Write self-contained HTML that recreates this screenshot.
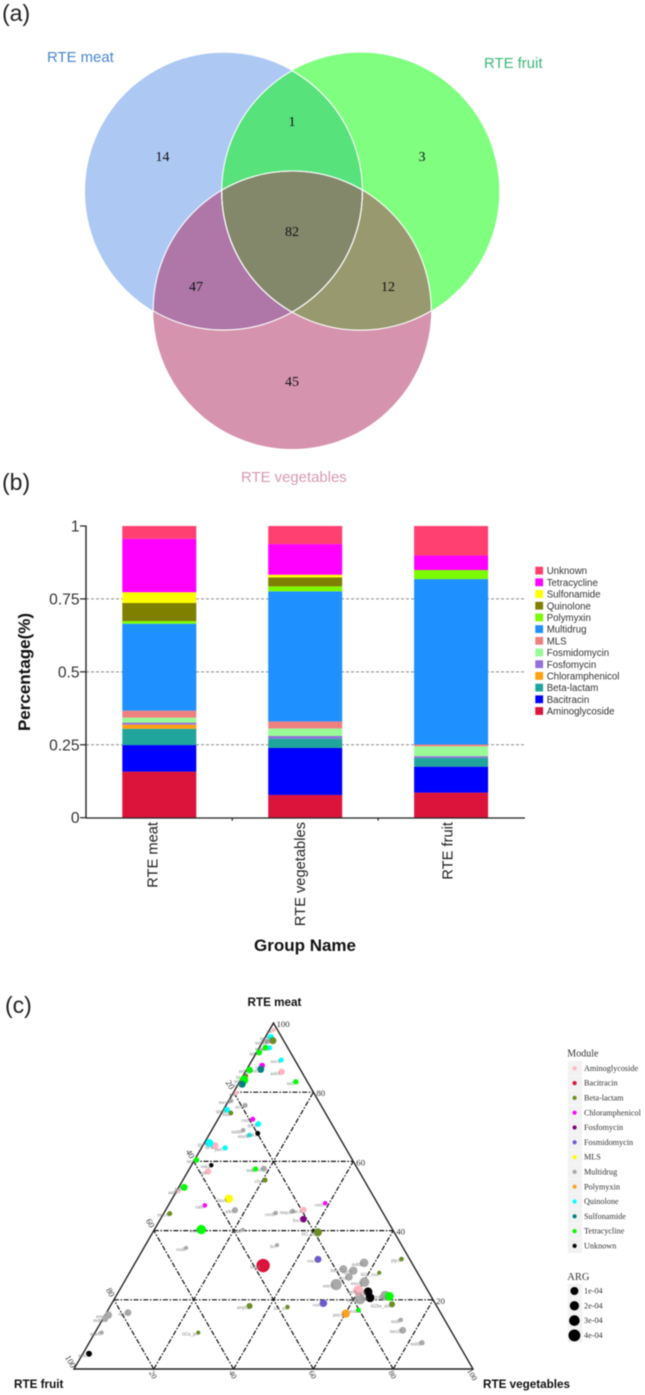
<!DOCTYPE html>
<html lang="en">
<head>
<meta charset="utf-8">
<title>RTE food resistome figure</title>
<style>
html,body{margin:0;padding:0;background:#fff;}
#figure{display:block;width:645px;height:1395px;filter:blur(0.4px);}
text{font-family:"Liberation Sans",sans-serif;}
.serif{font-family:"Liberation Serif",serif;}
</style>
</head>
<body>
<svg id="figure" xmlns="http://www.w3.org/2000/svg" width="645" height="1395" viewBox="0 0 645 1395">
<defs>
<clipPath id="clip-meat"><circle cx="223.7" cy="191.4" r="138.7"/></clipPath>
<clipPath id="clip-fruit"><circle cx="360.5" cy="191.4" r="138.8"/></clipPath>
<clipPath id="clip-veg"><circle cx="292.2" cy="310" r="139"/></clipPath>
</defs>
<rect width="645" height="1395" fill="#fff"/>
<text x="2" y="21" font-size="23" fill="#222">(a)</text>
<text x="2" y="490" font-size="23" fill="#222">(b)</text>
<text x="5" y="1013" font-size="23" fill="#222">(c)</text>

<g id="venn">
<circle cx="223.7" cy="191.4" r="138.7" fill="#aec8f4"/>
<circle cx="360.5" cy="191.4" r="138.8" fill="#80fe80"/>
<circle cx="292.2" cy="310" r="139" fill="#d593ae"/>
<g clip-path="url(#clip-meat)"><circle cx="360.5" cy="191.4" r="138.8" fill="#57e27b"/></g>
<g clip-path="url(#clip-meat)"><circle cx="292.2" cy="310" r="139" fill="#ae77a8"/></g>
<g clip-path="url(#clip-fruit)"><circle cx="292.2" cy="310" r="139" fill="#98996f"/></g>
<g clip-path="url(#clip-meat)"><g clip-path="url(#clip-fruit)"><circle cx="292.2" cy="310" r="139" fill="#83886b"/></g></g>
<g fill="none" stroke="#fff" stroke-width="1.1">
<g clip-path="url(#clip-fruit)"><circle cx="223.7" cy="191.4" r="138.7"/></g>
<g clip-path="url(#clip-veg)"><circle cx="223.7" cy="191.4" r="138.7"/></g>
<g clip-path="url(#clip-meat)"><circle cx="360.5" cy="191.4" r="138.8"/></g>
<g clip-path="url(#clip-veg)"><circle cx="360.5" cy="191.4" r="138.8"/></g>
<g clip-path="url(#clip-meat)"><circle cx="292.2" cy="310" r="139"/></g>
<g clip-path="url(#clip-fruit)"><circle cx="292.2" cy="310" r="139"/></g>
</g>
<text x="47" y="62" font-size="14.9" fill="#4a86d0">RTE meat</text>
<text x="484" y="68" font-size="14.9" fill="#3cb878">RTE fruit</text>
<text x="241" y="482" font-size="14.9" fill="#d898b4">RTE vegetables</text>
<g class="serif" font-size="14" fill="#111" text-anchor="middle">
<text class="serif" x="162.5" y="161">14</text>
<text class="serif" x="292" y="126">1</text>
<text class="serif" x="422" y="161">3</text>
<text class="serif" x="292" y="236">82</text>
<text class="serif" x="196" y="291">47</text>
<text class="serif" x="388" y="291">12</text>
<text class="serif" x="292" y="386">45</text>
</g>
</g>

<g id="bar-chart"></g>
<g id="ternary-chart"></g>
</svg>

<script>
// ---------- Panel (b) data ----------
const barGroups = ["RTE meat", "RTE vegetables", "RTE fruit"];
const barClasses = ["Aminoglycoside","Bacitracin","Beta-lactam","Chloramphenicol","Fosfomycin","Fosmidomycin","MLS","Multidrug","Polymyxin","Quinolone","Sulfonamide","Tetracycline","Unknown"];
const barColors = ["#dc143c","#0000ff","#20a59d","#ffa010","#9370db","#98fb98","#f08080","#1e90ff","#7cfc00","#808000","#ffff00","#ff00ff","#ff4070"];
const shareMeat = [0.158,0.091,0.056,0.014,0.007,0.017,0.024,0.298,0.009,0.062,0.037,0.183,0.044];
const shareVegetables = [0.078,0.161,0.032,0,0.009,0.026,0.024,0.446,0.017,0.031,0.009,0.105,0.062];
const shareFruit = [0.086,0.089,0.030,0,0.006,0.034,0.006,0.567,0.031,0,0,0.050,0.101];
const barYTicks = [0, 0.25, 0.5, 0.75, 1];
const barYTickLabels = ["0", "0.25", "0.5", "0.75", "1"];

// ---------- Panel (c) data ----------
const ternaryTicks = [20, 40, 60, 80, 100];
const moduleNames = ["Aminoglycoside","Bacitracin","Beta-lactam","Chloramphenicol","Fosfomycin","Fosmidomycin","MLS","Multidrug","Polymyxin","Quinolone","Sulfonamide","Tetracycline","Unknown"];
const moduleColors = ["#ffb6c1","#dc143c","#6b8e23","#ff00ff","#800080","#6a5acd","#ffff00","#a9a9a9","#ffa020","#00ffff","#008080","#00ff00","#000000"];
const argLegendValues = [1, 2, 3, 4];
const argLegendLabels = ["1e-04", "2e-04", "3e-04", "4e-04"];
const geneNames = [
"mdtG","mexB","acrB","mdtK","mexF","adeJ","ceoB","mdtF","rosB","bcr","oprJ","emrB","mdtC","smeE","mepA","mdtB","mexT","oprN","acrF","mexK","emrA","mdtA","tolC","tsnR","mexD","mdtE",
"aac","aadA","ant","strA","aph","aadE","aacA","aac6",
"qnrB","qnrS","norA","qnrD","qnrA","emrR","gyrA","parC",
"bl2b","blaZ","blaI","cfxA","mecA","ampC","bl2a_pc","bl2_ula","ptpA","bl2e_oxa","bl2be_shv","bl1_ec",
"tetM","tetO","tetW","tetL","tetQ","tetA","tetC","tetB","tet32","tetX","tet44",
"cat","cmlA","catB","cmlv",
"sul1","sul2",
"unk1","unk2","unk3","ksgA","bac",
"lnuA","bacA","fosX","rosA","rosC","pmrA"];
const geneModules = [
7,7,7,7,7,7,7,7,7,7,7,7,7,7,7,7,7,7,7,7,7,7,7,7,7,7,
0,0,0,0,0,0,0,0,
9,9,9,9,9,9,9,9,
2,2,2,2,2,2,2,2,2,2,2,2,
11,11,11,11,11,11,11,11,11,11,11,
3,3,3,3,
10,10,
12,12,12,12,12,
6,1,4,5,5,8];
const geneMeat = [
94.6,77.5,76.2,69,57.9,45.9,45.1,40.2,35,35.8,16.3,15.6,14.5,10.5,45.6,30.7,28.9,28.4,26.6,25.1,24.4,20.2,21.2,14.2,11.2,7.6,
98,85.9,79.7,64.5,57.1,51.4,46,22.7,
95.9,92.8,89.3,74.9,70.8,67.6,65.3,63.9,
94.9,84.7,74,54.6,44.9,18.2,10.5,39.5,31.8,27.8,18.7,17.9,
92.9,91.5,86.4,83,83.5,60.4,57.8,52.5,40.3,21,17,
87.7,72.2,47.3,47.9,
86.6,82.3,
68.1,58.9,4.4,22.3,20.6,
49.2,29.9,43.3,31.7,19,16];
const geneVegetables = [
1.1,0.6,4.8,7.9,18.65,17.4,28,22.2,10.6,33,5.4,0.8,0.55,1.65,32,57.35,53.05,55.8,55.6,60.25,53.5,61.6,67.4,74.8,76.8,83.4,
1.05,9.1,0.75,3.05,5.05,0.5,34.5,59.9,
1.35,2.65,7.3,0.85,10.8,10.2,1.25,5.95,
2.4,0.7,2.3,20.6,1.55,34.9,25.9,41.35,66.2,62.6,70.35,44.55,
1.5,0.65,0.8,14.1,0.85,0.45,16.6,1.35,11.75,68.5,62.75,
3.3,8.7,9.15,39,
3.5,1,
12,4.95,1.55,62.55,63.9,
14.2,32.45,35.85,45.3,53,60.1];
const geneAbundance = [
0.6,0.5,0.6,0.5,0.9,0.9,0.5,0.4,0.4,0.4,1.1,1.4,1.0,0.5,0.6,1.8,1.5,1.7,1.4,2.3,3.0,2.7,2.4,0.5,1.1,0.7,
0.4,1.0,0.5,1.3,1.0,0.4,1.0,2.6,
1.0,0.6,0.6,0.9,0.8,0.6,1.6,0.7,
1.2,0.6,0.6,0.6,0.6,0.9,0.4,1.6,0.5,0.4,0.9,0.5,
0.8,0.9,1.1,0.7,1.8,0.8,0.7,1.2,2.2,2.0,0.6,
0.8,0.6,0.5,0.5,
1.2,1.2,
0.6,0.5,0.9,1.9,1.9,
1.8,4.4,1.1,1.2,1.4,1.7];

const NS = "http://www.w3.org/2000/svg";
function make(parent, tag, attrs, content) {
  const el = document.createElementNS(NS, tag);
  for (const k in attrs) el.setAttribute(k, attrs[k]);
  if (content !== undefined) el.textContent = content;
  parent.appendChild(el);
  return el;
}

// ---------- Stacked bars ----------
(function () {
  const root = document.getElementById("bar-chart");
  const y = v => 817.7 - 291.7 * v;
  const axisX = 86, gridEnd = 525;
  const barWidth = 74;
  const barCenters = i => 159.3 + 145.9 * i;
  const labelBaseline = i => 157.3 + 147.7 * i;
  const seriesByGroup = [shareMeat, shareVegetables, shareFruit];

  barYTicks.forEach((t, i) => {
    if (t > 0 && t < 1) {
      const g = make(root, "line", {x1: axisX, x2: gridEnd, y1: y(t), y2: y(t), stroke: "#8a8a8a", "stroke-width": 1, "stroke-dasharray": "3 2"});
      
      
    }
    const tick = make(root, "line", {x1: axisX - 6, x2: axisX, y1: y(t), y2: y(t), stroke: "#222", "stroke-width": 1.2});
    
    
    const lab = make(root, "text", {x: 79.5, y: y(t) + 5.5, "text-anchor": "end", "font-size": 15.6, fill: "#333"}, barYTickLabels[i]);
    
    
  });

  barGroups.forEach((name, gi) => {
    let cum = 0;
    const x = barCenters(gi) - barWidth / 2;
    seriesByGroup[gi].forEach((v, ci) => {
      if (v > 0) {
        const seg = make(root, "rect", {x: x, y: y(cum + v), width: barWidth, height: y(cum) - y(cum + v), fill: barColors[ci]});
        
        
      }
      cum += v;
    });
    const lab = make(root, "text", {transform: "translate(" + labelBaseline(gi) + ",822) rotate(-90)", "text-anchor": "end", "font-size": 14.7, fill: "#222"}, name);
    
    
  });

  const yAxis = make(root, "line", {x1: axisX, x2: axisX, y1: y(1) - 0.5, y2: y(0) + 0.5, stroke: "#222", "stroke-width": 1.4});
  
  
  const xAxis = make(root, "line", {x1: axisX, x2: gridEnd, y1: y(0) + 0.3, y2: y(0) + 0.3, stroke: "#222", "stroke-width": 1.2});
  
  
  [0.5, 1.5].forEach(p => {
    const tx = barCenters(p);
    const t = make(root, "line", {x1: tx, x2: tx, y1: y(0), y2: y(0) + 3, stroke: "#222", "stroke-width": 1.2});
    
    
  });

  const yTitle = make(root, "text", {transform: "translate(30,672) rotate(-90)", "text-anchor": "middle", "font-size": 17, "font-weight": "bold", fill: "#111"}, "Percentage(%)");
  
  
  const xTitle = make(root, "text", {x: 305, y: 951, "text-anchor": "middle", "font-size": 17, "font-weight": "bold", fill: "#111"}, "Group Name");
  
  

  // legend: top entry is the last class
  barClasses.slice().reverse().forEach((name, i) => {
    const ci = barClasses.length - 1 - i;
    const cy = 570.7 + 11.7 * i;
    const sw = make(root, "rect", {x: 535.3, y: cy - 4, width: 7.8, height: 7.8, fill: barColors[ci]});
    
    
    const tx = make(root, "text", {x: 546.7, y: cy + 3.5, "font-size": 9.7, fill: "#333"}, name);
    
    
  });
})();

// ---------- Ternary ----------
(function () {
  const root = document.getElementById("ternary-chart");
  const left = 74, base = 1369, W = 399, H = 346;
  const px = (meat, veg) => left + W * (veg + meat / 2) / 100;
  const py = meat => base - H * meat / 100;
  const SERIF = '"Liberation Serif",serif';
  const radius = a => 3.2 * Math.sqrt(a);
  const legendRadius = a => 3.35 + 0.65 * a;

  // grid
  ternaryTicks.filter(t => t < 100).forEach(t => {
    const segs = [
      [t, 0, t, 100 - t],
      [0, t, 100 - t, t],
      [0, 100 - t, 100 - t, 0]
    ];
    segs.forEach(s => {
      const g = make(root, "line", {x1: px(s[0], s[1]), y1: py(s[0]), x2: px(s[2], s[3]), y2: py(s[2]), stroke: "#111", "stroke-width": 1.2, "stroke-dasharray": "5 1.6 1.6 1.6"});
      
      
    });
  });
  const frame = make(root, "polygon", {points: [px(100, 0) + "," + py(100), px(0, 0) + "," + py(0), px(0, 100) + "," + py(0)].join(" "), fill: "none", stroke: "#222", "stroke-width": 1.4});
  
  

  // tick labels
  ternaryTicks.forEach(t => {
    const a = make(root, "text", {x: px(t, 100 - t) + 3, y: py(t) + 4, "font-size": 8.8, fill: "#333", style: "font-family:" + SERIF}, String(t));
    
    
    const fruitMeat = 100 - t;
    const b = make(root, "text", {transform: "translate(" + (px(fruitMeat, 0) - 6) + "," + (py(fruitMeat) - 6) + ") rotate(60)", "text-anchor": "middle", "font-size": 8.8, fill: "#333", style: "font-family:" + SERIF}, String(t));
    
    
    const c = make(root, "text", {transform: "translate(" + (px(0, t) - 3) + "," + (base + 7) + ") rotate(60)", "text-anchor": "middle", "font-size": 8, fill: "#333", style: "font-family:" + SERIF}, String(t));
    
    
  });

  // corner titles
  const t1 = make(root, "text", {x: 274.5, y: 1006, "text-anchor": "middle", "font-size": 11.7, "font-weight": "bold", fill: "#111"}, "RTE meat");
  
  
  const t2 = make(root, "text", {x: 14, y: 1388, "font-size": 11.7, "font-weight": "bold", fill: "#111"}, "RTE fruit");
  
  
  const t3 = make(root, "text", {x: 483, y: 1388, "font-size": 11.7, "font-weight": "bold", fill: "#111"}, "RTE vegetables");
  
  

  // points
  geneNames.forEach((gene, i) => {
    const x = px(geneMeat[i], geneVegetables[i]);
    const y = py(geneMeat[i]);
    const r = radius(geneAbundance[i]);
    const dot = make(root, "circle", {cx: x, cy: y, r: r, fill: moduleColors[geneModules[i]]});
    
    
    const lab = make(root, "text", {x: x - r * 0.4, y: y + 3, "text-anchor": "end", "font-size": 4.8, fill: "#808080", style: "font-family:" + SERIF}, gene);
    
    
  });

  // module legend
  const mt = make(root, "text", {x: 567.3, y: 1056.5, "font-size": 10, fill: "#333", style: "font-family:" + SERIF}, "Module");
  
  
  moduleNames.forEach((name, i) => {
    const cy = 1068.3 + 14.8 * i;
    const key = make(root, "rect", {x: 567.8, y: cy - 7.2, width: 14.4, height: 14.4, fill: "#f2f2f2"});
    
    
    const dot = make(root, "circle", {cx: 574.6, cy: cy, r: 2.1, fill: moduleColors[i]});
    
    
    const tx = make(root, "text", {x: 584, y: cy + 2.6, "font-size": 8.2, fill: "#333", style: "font-family:" + SERIF}, name);
    
    
  });

  // size legend
  const at = make(root, "text", {x: 567.3, y: 1280, "font-size": 10.5, fill: "#333", style: "font-family:" + SERIF}, "ARG");
  
  
  argLegendValues.forEach((v, i) => {
    const cy = 1291 + 14.8 * i;
    const key = make(root, "rect", {x: 567.8, y: cy - 7.2, width: 14.4, height: 14.4, fill: "#f2f2f2"});
    
    
    const dot = make(root, "circle", {cx: 574.4, cy: cy, r: legendRadius(v), fill: "#000"});
    
    
    const tx = make(root, "text", {x: 584, y: cy + 2.6, "font-size": 8.2, fill: "#333", style: "font-family:" + SERIF}, argLegendLabels[i]);
    
    
  });
})();
</script>
</body>
</html>
